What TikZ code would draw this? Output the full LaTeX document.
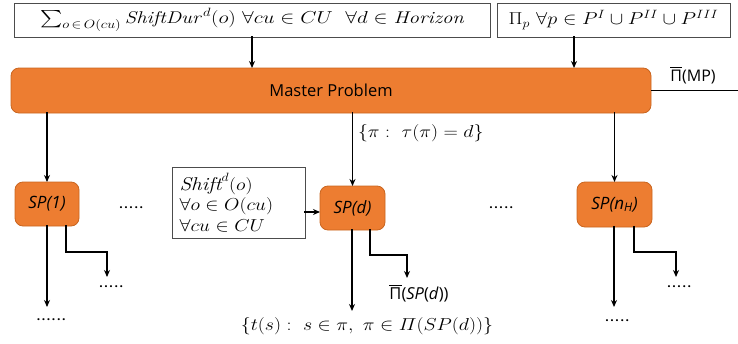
\documentclass[tikz,border=0pt]{standalone}
\usepackage{fontspec}
\usepackage{amsmath}
\setsansfont{Open Sans}
\usetikzlibrary{arrows.meta}
\definecolor{mporange}{HTML}{ED7D31}
\definecolor{mpedge}{HTML}{C9651F}
% slightly widened math, for the labels set in a broad face
\newcommand{\widemath}[1]{\scalebox{1.15}[1]{#1}}
% a row of spaced dots
\newcommand{\dotrun}[1]{\foreach \k in {1,...,#1}{.\kern1.6pt}}
\begin{document}
\begin{tikzpicture}[x=1pt,y=-1pt,
  every node/.style={inner sep=0pt,outer sep=0pt},
  mathbox/.style={draw=black!70,line width=0.8pt,fill=white,font=\fontsize{17}{20}\selectfont},
  probbox/.style={draw=mpedge,line width=0.8pt,fill=mporange,rounded corners=8pt,
    font=\sffamily\fontsize{16.5}{19}\selectfont},
  subbox/.style={probbox,font=\sffamily\itshape\fontsize{17}{20}\selectfont},
  link/.style={line width=1.4pt,line cap=rect},
  arr/.style={link,-{Stealth[length=7pt,width=6pt]}},
  dots/.style={font=\sffamily\bfseries\fontsize{12}{14}\selectfont},
  lbl/.style={font=\fontsize{17}{20}\selectfont}
]
\useasboundingbox (0,0) rectangle (738,343);

% input boxes
\node[mathbox,minimum width=476,minimum height=34] (sumbox) at (252,20)
  {\scalebox{1.22}[1]{$\textstyle\sum_{o\,\in\,O(cu)} \mathit{ShiftDur}^{\,d}(o)\ \forall cu\in CU\ \ \forall d\in \mathit{Horizon}$}};
\node[mathbox,minimum width=233,minimum height=34] (prodbox) at (613.5,20)
  {\scalebox{1.17}[1]{$\Pi_p\ \forall p\in P^{I}\cup P^{II}\cup P^{III}$}};
\coordinate (prodout) at (574,37);

% master and sub problems
\node[probbox,minimum width=640,minimum height=45] (master) at (331,90.5) {Master Problem};
\node[subbox,minimum width=64,minimum height=44] (sp1) at (47,204) {SP(1)};
\node[subbox,minimum width=65,minimum height=44] (spd) at (352.5,208) {SP(d)};
\node[subbox,minimum width=75,minimum height=45] (spn) at (614.5,204.5) {SP(n\textsubscript{H})};

\node[mathbox,minimum width=133,minimum height=71,text width=118,align=left,
  font=\fontsize{18.5}{20.5}\selectfont] (shiftbox) at (238.5,202.5)
  {\widemath{$\mathit{Shift}^{d}(o)$}\\\widemath{$\forall o\in O(cu)$}\\\widemath{$\forall cu\in CU$}};

% arrows into the master problem
\draw[arr] (sumbox.south) -- (sumbox.south |- master.north);
\draw[arr] (prodout) -- (prodout |- master.north);

% master outcome
\coordinate (mpend) at (738,90.5);
\draw[link,line cap=butt] (master.east) -- (mpend);
\node[font=\sffamily\fontsize{16}{18}\selectfont] (mplabel) at (693,75)
  {$\overline{\hbox{\sffamily Π}}$(MP)};

% master to sub problems
\draw[arr] (master.south -| sp1.north) -- (sp1.north);
\draw[arr] (master.south -| spd.north) -- (spd.north);
\draw[arr] (master.south -| spn.north) -- (spn.north);
\node[lbl,anchor=west] (patlabel) at (358,133) {\widemath{$\{\pi:\ \tau(\pi)=d\}$}};

\draw[arr] ([yshift=-4pt]spd.west -| shiftbox.east) -- ([yshift=-4pt]spd.west);

% between the sub problems
\node[dots] (gap1) at (132,208) {\dotrun{5}};
\node[dots] (gap2) at (502,208) {\dotrun{5}};

% SP(1) outputs
\coordinate (sp1down) at (47,307);
\coordinate (sp1side) at (107,277);
\draw[arr] (sp1.south) -- (sp1down);
\draw[arr] ([xshift=19pt]sp1.south) |- (87,252) -| (sp1side);
\node[dots] (sp1dots) at (52,320) {\dotrun{6}};
\node[dots] (sp1sdots) at (112,287) {\dotrun{5}};

% SP(d) outputs
\coordinate (spddown) at (352,311);
\coordinate (spdside) at (407,278);
\draw[arr] (spd.south -| spddown) -- (spddown);
\draw[arr] ([xshift=17.5pt]spd.south) |- (390,255) -| (spdside);
\node[font=\sffamily\fontsize{16.5}{19}\selectfont] (spdlabel) at (419,293)
  {$\overline{\hbox{\sffamily Π}}$(\textit{SP}(\textit{d}))};
\node[lbl] (tlabel) at (367,326)
  {\widemath{$\{t(s):\ s\in\pi,\ \pi\in \varPi(SP(d))\}$}};

% SP(n_H) outputs
\coordinate (spndown) at (614,307);
\coordinate (spnside) at (676,277);
\draw[arr] (spn.south -| spndown) -- (spndown);
\draw[arr] (spn.south -| 634,0) |- (650,252) -| (spnside);
\node[dots] (spndots) at (618,321) {\dotrun{5}};
\node[dots] (spnsdots) at (680,287) {\dotrun{5}};
\end{tikzpicture}
\end{document}
